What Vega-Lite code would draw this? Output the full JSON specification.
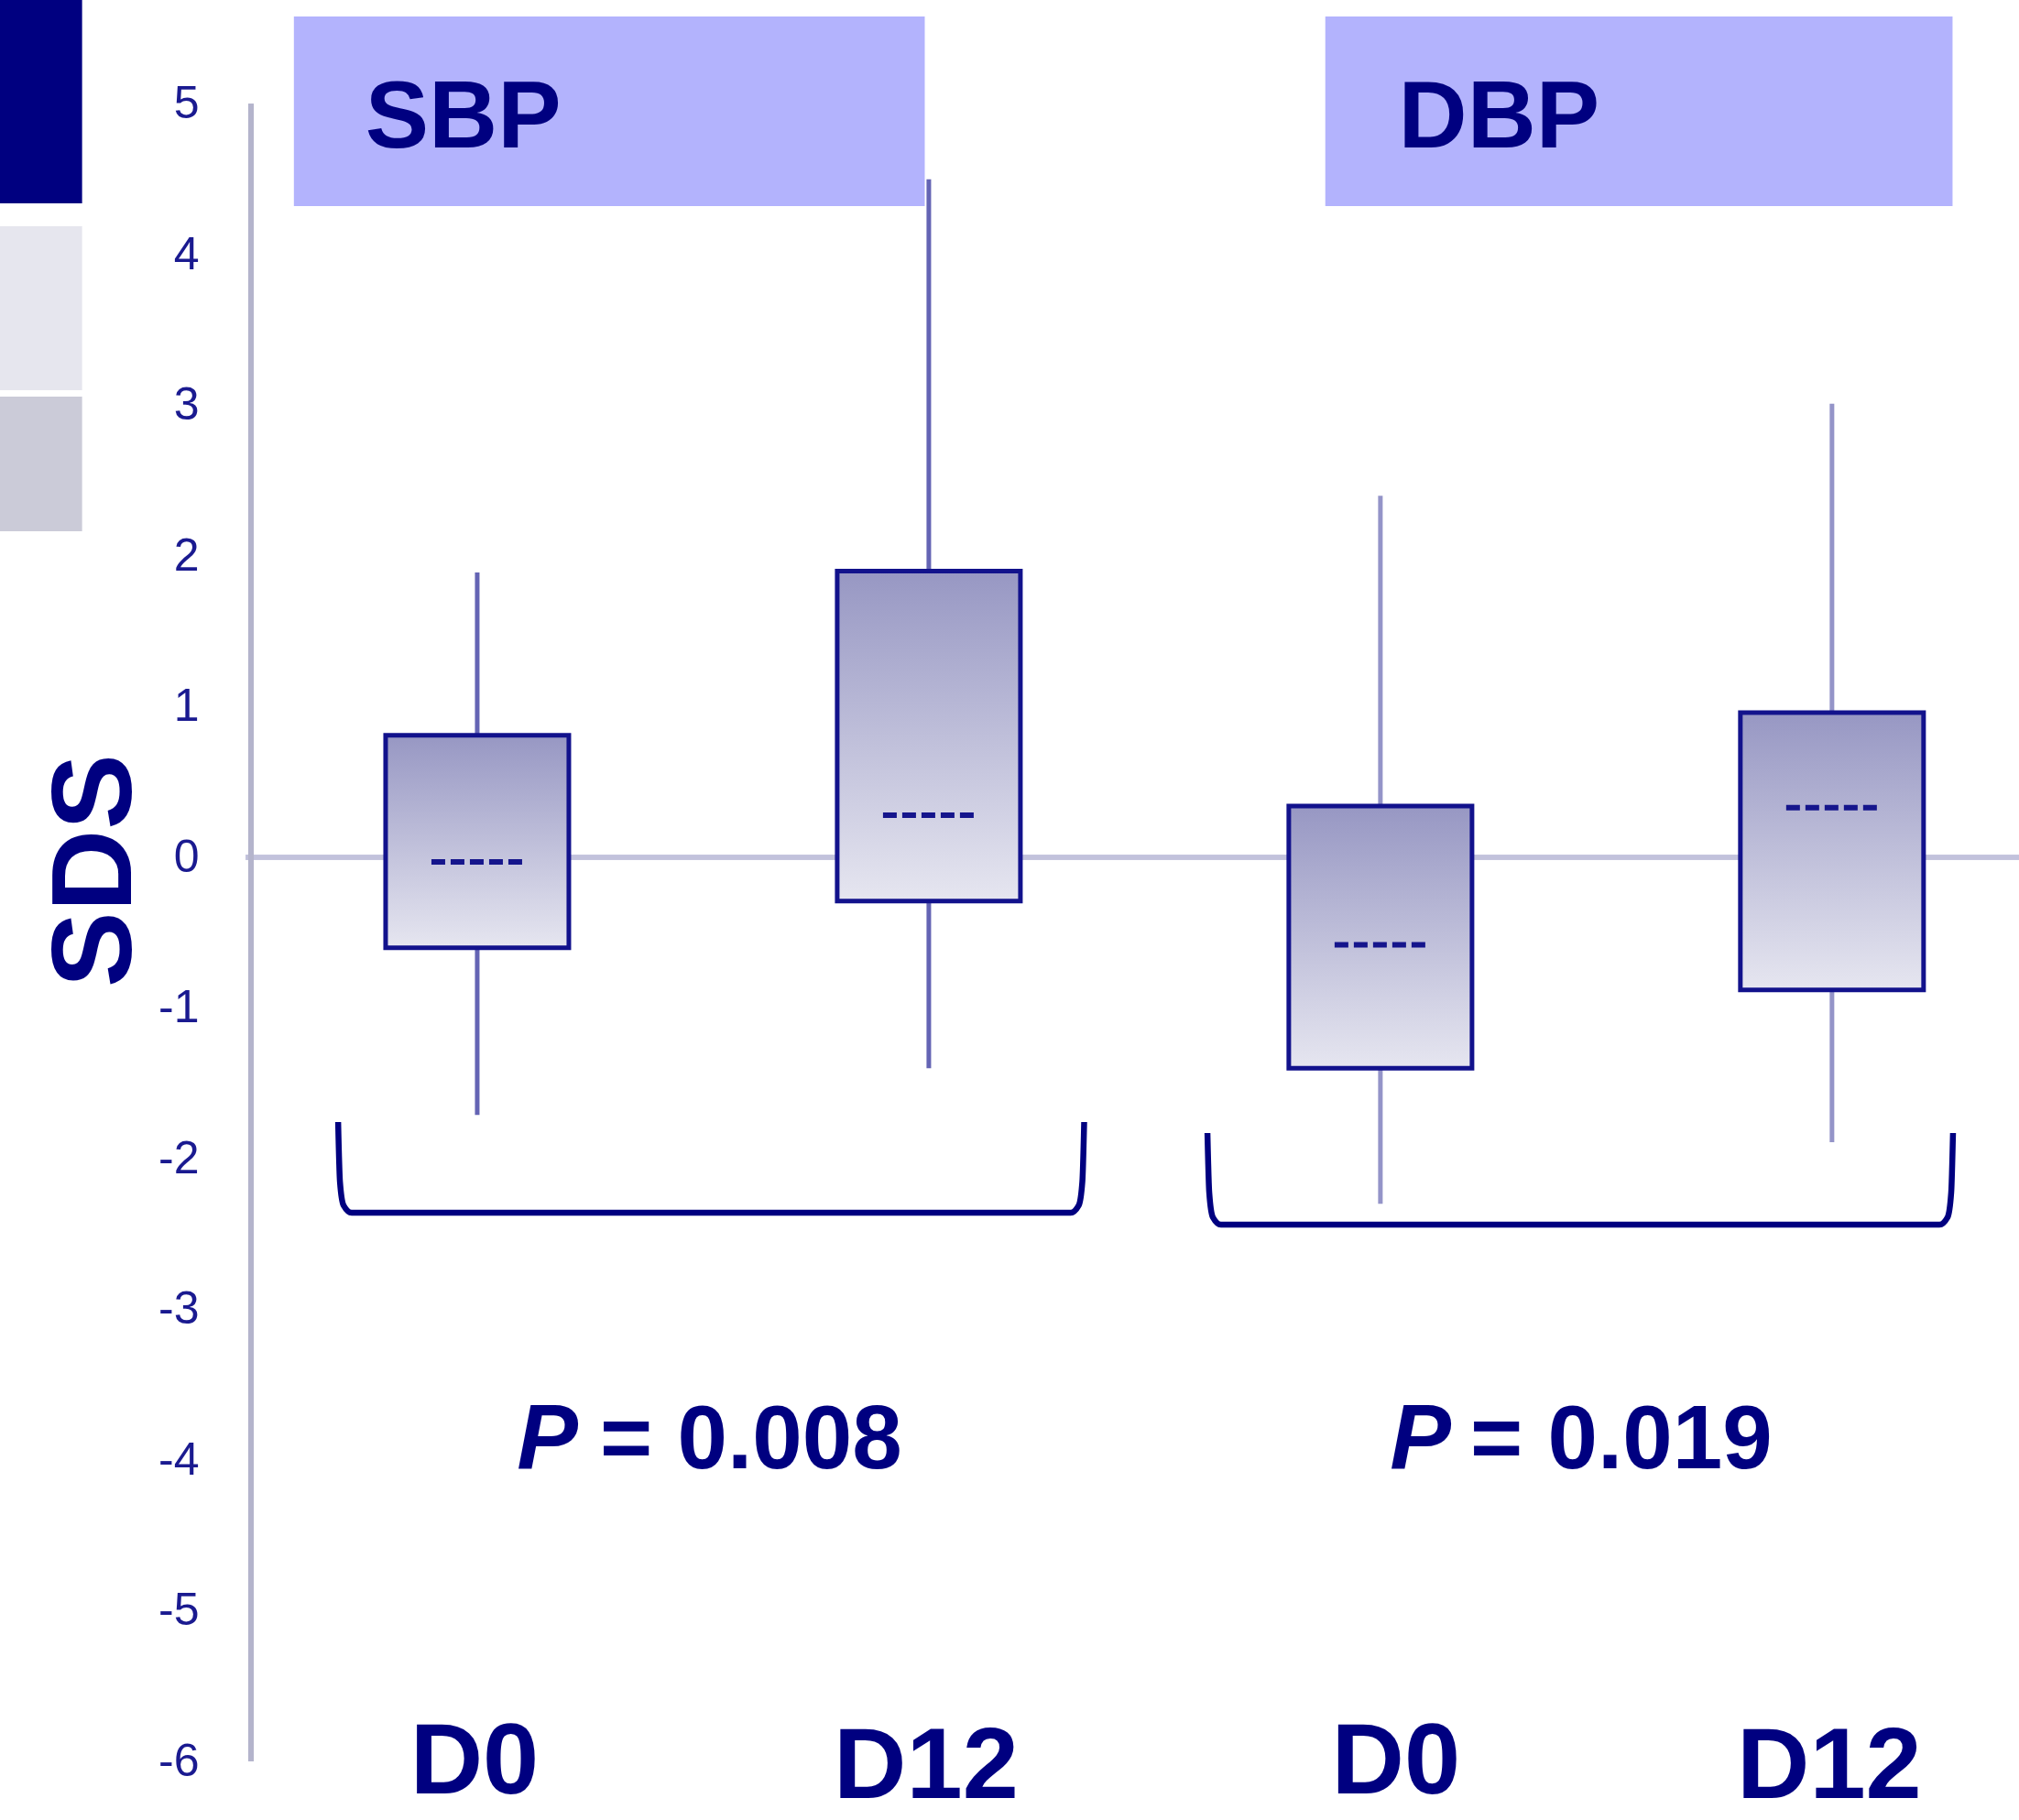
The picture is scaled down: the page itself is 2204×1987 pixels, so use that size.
{
  "$schema": "https://vega.github.io/schema/vega-lite/v6.json",
  "autosize": {"type": "none"},
  "padding": {"left": 268, "top": 0, "right": 0, "bottom": 0},
  "width": 1936,
  "height": 1987,
  "background": "#ffffff",
  "config": {"view": {"stroke": null}},
  "datasets": {
    "boxes": [
      {"measure": "SBP", "day": "D0", "pos": 1, "lo": -1.71, "q1": -0.60, "median": -0.03, "q3": 0.81, "hi": 1.89},
      {"measure": "SBP", "day": "D12", "pos": 2, "lo": -1.40, "q1": -0.29, "median": 0.28, "q3": 1.90, "hi": 4.50},
      {"measure": "DBP", "day": "D0", "pos": 3, "lo": -2.30, "q1": -1.40, "median": -0.58, "q3": 0.34, "hi": 2.40},
      {"measure": "DBP", "day": "D12", "pos": 4, "lo": -1.89, "q1": -0.88, "median": 0.33, "q3": 0.96, "hi": 3.01}
    ],
    "headers": [
      {"measure": "SBP", "x0": 0.594, "x1": 1.991, "y0": 4.322, "y1": 5.581, "tx": 0.752, "ty": 4.711},
      {"measure": "DBP", "x0": 2.878, "x1": 4.267, "y0": 4.322, "y1": 5.581, "tx": 3.040, "ty": 4.711}
    ],
    "brackets": [
      {"measure": "SBP", "order": 1, "x": 0.692, "y": -1.757},
      {"measure": "SBP", "order": 2, "x": 0.696, "y": -2.152},
      {"measure": "SBP", "order": 3, "x": 0.704, "y": -2.310},
      {"measure": "SBP", "order": 4, "x": 0.722, "y": -2.359},
      {"measure": "SBP", "order": 5, "x": 2.314, "y": -2.359},
      {"measure": "SBP", "order": 6, "x": 2.332, "y": -2.310},
      {"measure": "SBP", "order": 7, "x": 2.340, "y": -2.152},
      {"measure": "SBP", "order": 8, "x": 2.344, "y": -1.757},
      {"measure": "DBP", "order": 1, "x": 2.617, "y": -1.830},
      {"measure": "DBP", "order": 2, "x": 2.621, "y": -2.225},
      {"measure": "DBP", "order": 3, "x": 2.629, "y": -2.389},
      {"measure": "DBP", "order": 4, "x": 2.647, "y": -2.438},
      {"measure": "DBP", "order": 5, "x": 4.238, "y": -2.438},
      {"measure": "DBP", "order": 6, "x": 4.256, "y": -2.389},
      {"measure": "DBP", "order": 7, "x": 4.264, "y": -2.225},
      {"measure": "DBP", "order": 8, "x": 4.268, "y": -1.830}
    ],
    "pvals": [
      {"measure": "SBP", "xp": 1.088, "xv": 1.272, "y": -4.055, "p": "P", "value": "= 0.008"},
      {"measure": "DBP", "xp": 3.021, "xv": 3.199, "y": -4.055, "p": "P", "value": "= 0.019"}
    ],
    "blocks": [
      {"kind": "dark", "x0": -0.06, "x1": 0.125, "y0": 4.340, "y1": 5.80},
      {"kind": "light", "x0": -0.06, "x1": 0.125, "y0": 3.100, "y1": 4.188},
      {"kind": "mid", "x0": -0.06, "x1": 0.125, "y0": 2.164, "y1": 3.058}
    ]
  },
  "layer": [
    {
      "data": {"name": "headers"},
      "mark": {"type": "rect", "color": "#B3B3FD"},
      "encoding": {
        "x": {"field": "x0", "type": "quantitative", "scale": {"domain": [0.497, 4.404], "nice": false, "zero": false}, "axis": null},
        "x2": {"field": "x1"},
        "y": {"field": "y0", "type": "quantitative", "scale": {"domain": [-6.389, 5.690], "nice": false, "zero": false},
          "axis": {
            "values": [-6, -5, -4, -3, -2, -1, 0, 1, 2, 3, 4, 5],
            "labelExpr": "'' + datum.value",
            "domain": false, "ticks": false, "grid": false,
            "labelPadding": 51,
            "labelFont": "Liberation Sans", "labelFontSize": 50, "labelColor": "#1A1A90",
            "labelBaseline": "middle",
            "title": "SDS",
            "titleFont": "Liberation Sans", "titleFontWeight": "bold", "titleFontSize": 124,
            "titleColor": "#000080", "titleAngle": 270, "titleX": -163, "titleY": 950,
            "titleAlign": "center", "titleBaseline": "middle"
          }},
        "y2": {"field": "y1"}
      }
    },
    {
      "data": {"name": "headers"},
      "mark": {"type": "text", "align": "left", "baseline": "alphabetic", "font": "Liberation Sans", "fontWeight": "bold", "fontSize": 104, "color": "#000080"},
      "encoding": {
        "x": {"field": "tx", "type": "quantitative"},
        "y": {"field": "ty", "type": "quantitative"},
        "text": {"field": "measure"}
      }
    },
    {
      "data": {"name": "boxes"},
      "mark": {"type": "rule", "color": "#C2C2DC", "strokeWidth": 5},
      "encoding": {"y": {"datum": 0}}
    },
    {
      "data": {"name": "boxes"},
      "mark": {"type": "rule", "color": "#B4B4CC", "strokeWidth": 6},
      "encoding": {"x": {"datum": 0.499}, "y": {"datum": -6}, "y2": {"datum": 5}}
    },
    {
      "data": {"name": "boxes"},
      "mark": {"type": "rule", "strokeWidth": 5},
      "encoding": {
        "x": {"field": "pos", "type": "quantitative"},
        "y": {"field": "lo", "type": "quantitative"},
        "y2": {"field": "hi"},
        "color": {"condition": {"test": "datum.measure === 'SBP'", "value": "#6464B4"}, "value": "#9494C8"}
      }
    },
    {
      "data": {"name": "boxes"},
      "mark": {
        "type": "bar", "width": 200, "stroke": "#12128C", "strokeWidth": 5,
        "color": {"gradient": "linear", "x1": 0, "y1": 0, "x2": 0, "y2": 1,
          "stops": [{"offset": 0, "color": "#9797C3"}, {"offset": 1, "color": "#E6E6F0"}]}
      },
      "encoding": {
        "x": {"field": "pos", "type": "quantitative"},
        "y": {"field": "q1", "type": "quantitative"},
        "y2": {"field": "q3"}
      }
    },
    {
      "data": {"name": "boxes"},
      "mark": {"type": "point", "shape": "M-1,0H1", "size": 10000, "filled": false, "stroke": "#15158C", "strokeWidth": 6, "strokeDash": [15, 6], "opacity": 1},
      "encoding": {
        "x": {"field": "pos", "type": "quantitative"},
        "y": {"field": "median", "type": "quantitative"}
      }
    },
    {
      "data": {"name": "boxes"},
      "mark": {"type": "text", "align": "center", "baseline": "alphabetic", "font": "Liberation Sans", "fontWeight": "bold", "fontSize": 110, "color": "#000080",
        "dx": {"expr": "datum.measure === 'DBP' && datum.day === 'D0' ? 17 : -3"},
        "dy": {"expr": "datum.day === 'D12' ? 5 : 0"}},
      "encoding": {
        "x": {"field": "pos", "type": "quantitative"},
        "y": {"datum": -6.213},
        "text": {"field": "day"}
      }
    },
    {
      "data": {"name": "brackets"},
      "mark": {"type": "line", "color": "#000080", "strokeWidth": 6.5, "strokeCap": "butt", "strokeJoin": "round", "interpolate": "monotone"},
      "encoding": {
        "x": {"field": "x", "type": "quantitative"},
        "y": {"field": "y", "type": "quantitative"},
        "detail": {"field": "measure"},
        "order": {"field": "order"}
      }
    },
    {
      "data": {"name": "pvals"},
      "mark": {"type": "text", "align": "left", "baseline": "alphabetic", "font": "Liberation Sans", "fontWeight": "bold", "fontStyle": "italic", "fontSize": 100, "color": "#000080"},
      "encoding": {
        "x": {"field": "xp", "type": "quantitative"},
        "y": {"field": "y", "type": "quantitative"},
        "text": {"field": "p"}
      }
    },
    {
      "data": {"name": "pvals"},
      "mark": {"type": "text", "align": "left", "baseline": "alphabetic", "font": "Liberation Sans", "fontWeight": "bold", "fontSize": 98, "color": "#000080"},
      "encoding": {
        "x": {"field": "xv", "type": "quantitative"},
        "y": {"field": "y", "type": "quantitative"},
        "text": {"field": "value"}
      }
    },
    {
      "data": {"name": "blocks"},
      "mark": {"type": "rect"},
      "encoding": {
        "x": {"field": "x0", "type": "quantitative"},
        "x2": {"field": "x1"},
        "y": {"field": "y0", "type": "quantitative"},
        "y2": {"field": "y1"},
        "color": {"condition": [
          {"test": "datum.kind === 'dark'", "value": "#000080"},
          {"test": "datum.kind === 'light'", "value": "#E6E6EE"}
        ], "value": "#CBCBD8"}
      }
    }
  ]
}
